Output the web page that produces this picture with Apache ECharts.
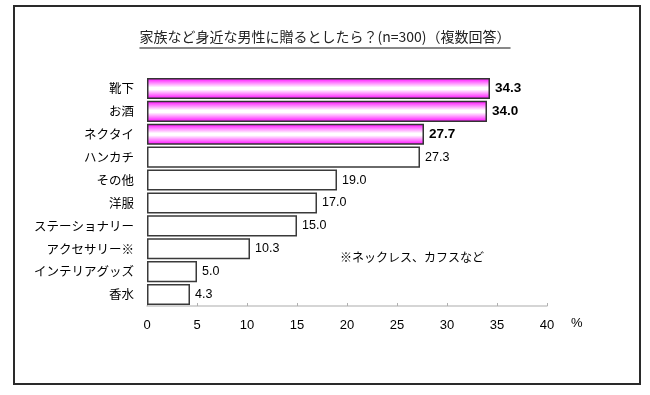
<!DOCTYPE html>
<html><head><meta charset="utf-8">
<script src="https://cdn.jsdelivr.net/npm/echarts@6/dist/echarts.min.js"></script>
<style>html,body{margin:0;padding:0;background:#fff}#c{width:650px;height:395px}</style>
</head><body><div id="c"></div>
<script>
const titleText = '家族など身近な男性に贈るとしたら？(n=300)（複数回答）';
const categories = ['靴下','お酒','ネクタイ','ハンカチ','その他','洋服','ステーショナリー','アクセサリー※','インテリアグッズ','香水'];
const values = [34.3, 34.0, 27.7, 27.3, 19.0, 17.0, 15.0, 10.3, 5.0, 4.3];
const highlightCount = 3;
const noteText = '※ネックレス、カフスなど';
const unitText = '%';

const JP = '"Noto Sans CJK JP", sans-serif';
const NUM = '"Liberation Sans", Arial, sans-serif';
const titleFont = '14px ' + JP;

const pinkGrad = new echarts.graphic.LinearGradient(0, 0, 0, 1, [
  {offset: 0, color: '#ff00ff'},
  {offset: 0.45, color: '#ffffff'},
  {offset: 0.55, color: '#ffffff'},
  {offset: 1, color: '#ff00ff'}
]);

const data = values.map((v, i) => {
  const hi = i < highlightCount;
  return {
    value: v,
    itemStyle: hi ? {color: pinkGrad, borderColor: '#333', borderWidth: 1.5}
                  : {color: '#ffffff', borderColor: '#3a3a3a', borderWidth: 1.5},
    label: hi ? {fontWeight: 'bold', fontFamily: NUM, fontSize: 13.5}
              : {fontWeight: 'normal', fontFamily: NUM, fontSize: 12.5}
  };
});

// measure title width for the underline
const ctx = document.createElement('canvas').getContext('2d');
ctx.font = titleFont;
const titleW = ctx.measureText(titleText).width;
const titleX = 325 - titleW / 2;

const chart = echarts.init(document.getElementById('c'), null, {renderer: 'canvas'});
chart.setOption({
  animation: false,
  backgroundColor: '#fff',
  grid: {left: 147, right: 103, top: 77, bottom: 89, containLabel: false},
  xAxis: {
    type: 'value', min: 0, max: 40, interval: 5,
    axisLine: {show: true, lineStyle: {color: '#c8c8c8', width: 1.5}},
    axisTick: {show: true, inside: true, length: 3, lineStyle: {color: '#b0b0b0'}},
    splitLine: {show: false},
    axisLabel: {color: '#000', fontFamily: NUM, fontSize: 13, margin: 13}
  },
  yAxis: {
    type: 'category', data: categories, inverse: true,
    axisLine: {show: false}, axisTick: {show: false},
    axisLabel: {color: '#000', fontFamily: JP, fontSize: 12.5, margin: 13}
  },
  series: [{
    type: 'bar', data: data, barCategoryGap: '8%',
    label: {show: true, position: 'right', distance: 5, color: '#000',
            formatter: p => p.value.toFixed(1)}
  }],
  graphic: [
    {type: 'rect', shape: {x: 14, y: 6, width: 626, height: 378},
     style: {fill: 'none', stroke: '#2a2a2a', lineWidth: 2}, silent: true},
    {type: 'text', left: titleX, top: 30,
     style: {text: titleText, font: titleFont, fill: '#222'}},
    {type: 'line', shape: {x1: titleX, y1: 48, x2: titleX + titleW, y2: 48},
     style: {stroke: '#888', lineWidth: 2}, silent: true},
    {type: 'text', left: 340, top: 251,
     style: {text: noteText, font: '12px ' + JP, fill: '#000'}},
    {type: 'text', left: 571, top: 317,
     style: {text: unitText, font: '13px ' + NUM, fill: '#000'}}
  ]
});
</script></body></html>
